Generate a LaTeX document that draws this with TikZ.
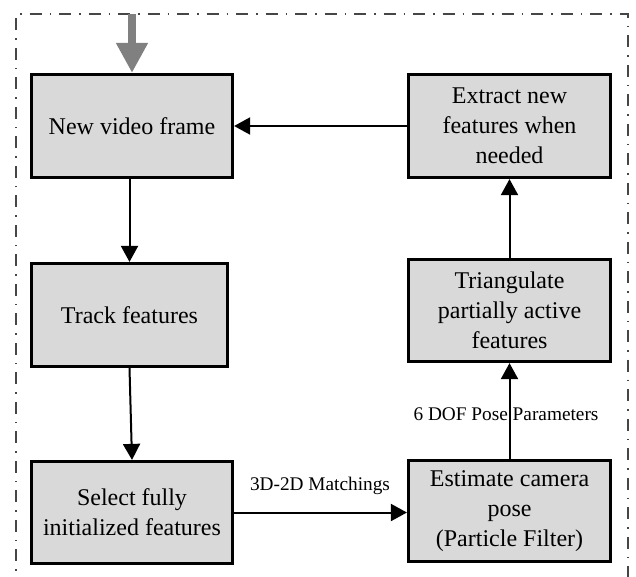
\documentclass[tikz,border=0pt]{standalone}
\usepackage{fontspec}
\setmainfont{Liberation Serif}
\usetikzlibrary{arrows.meta}

\definecolor{boxfill}{RGB}{217,217,217}
\definecolor{framegray}{RGB}{70,70,70}
\definecolor{feedgray}{RGB}{128,128,128}

\tikzset{
  stage/.style={draw=black, fill=boxfill, line width=3.2pt, align=center,
    font=\fontsize{24}{30}\selectfont, inner sep=0pt},
  flow/.style={draw=black, line width=2pt, -{Triangle[length=16pt,width=17pt]}},
  feed/.style={draw=feedgray, line width=8pt, -{Triangle[length=30pt,width=30pt]}},
  tag/.style={font=\fontsize{19.3}{23}\selectfont, inner sep=0pt, anchor=base},
  frame/.style={draw=framegray, line width=2pt,
    dash pattern=on 12pt off 8pt on 1.5pt off 8pt}
}

\begin{document}
\begin{tikzpicture}[x=1pt,y=-1pt]
  \clip (0,0) rectangle (636,576);
  \fill[white] (0,0) rectangle (636,576);

  % outer dash-dot frame (runs past the lower edge)
  \draw[frame] (16,620) -- (16,14) -- (628,14) -- (628,620);

  % processing stages
  \node[stage, minimum width=201pt, minimum height=103pt] (nvf) at (132,126) {New video frame};
  \node[stage, minimum width=196pt, minimum height=103pt] (track) at (129.5,315) {Track features};
  \node[stage, minimum width=201pt, minimum height=102pt] (select) at (132,512.5) {Select fully\\initialized features};
  \node[stage, minimum width=202pt, minimum height=103pt] (extract) at (509.5,126) {Extract new\\features when\\needed};
  \node[stage, minimum width=202pt, minimum height=102pt] (tri) at (509.5,310.5) {Triangulate\\partially active\\features};
  \node[stage, minimum width=202pt, minimum height=101pt] (est) at (509.5,511) {Estimate camera\\pose\\(Particle Filter)};

  % incoming frame
  \coordinate (src) at (132,14);
  \draw[feed] (src) -- (nvf.north);

  % connectors
  \draw[flow] (track.north |- nvf.south) -- (track.north);
  \draw[flow] (track.south) -- (select.north);
  \draw[flow] (select.east) -- (est.west |- select.east);
  \draw[flow] (est.north) -- (tri.south);
  \draw[flow] (tri.north) -- (extract.south);
  \draw[flow] (extract.west) -- (nvf.east);

  % connector labels
  \node[tag] (lm) at (320,490) {3D-2D Matchings};
  \node[tag] (lp) at (506,420) {6 DOF Pose Parameters};
\end{tikzpicture}
\end{document}
